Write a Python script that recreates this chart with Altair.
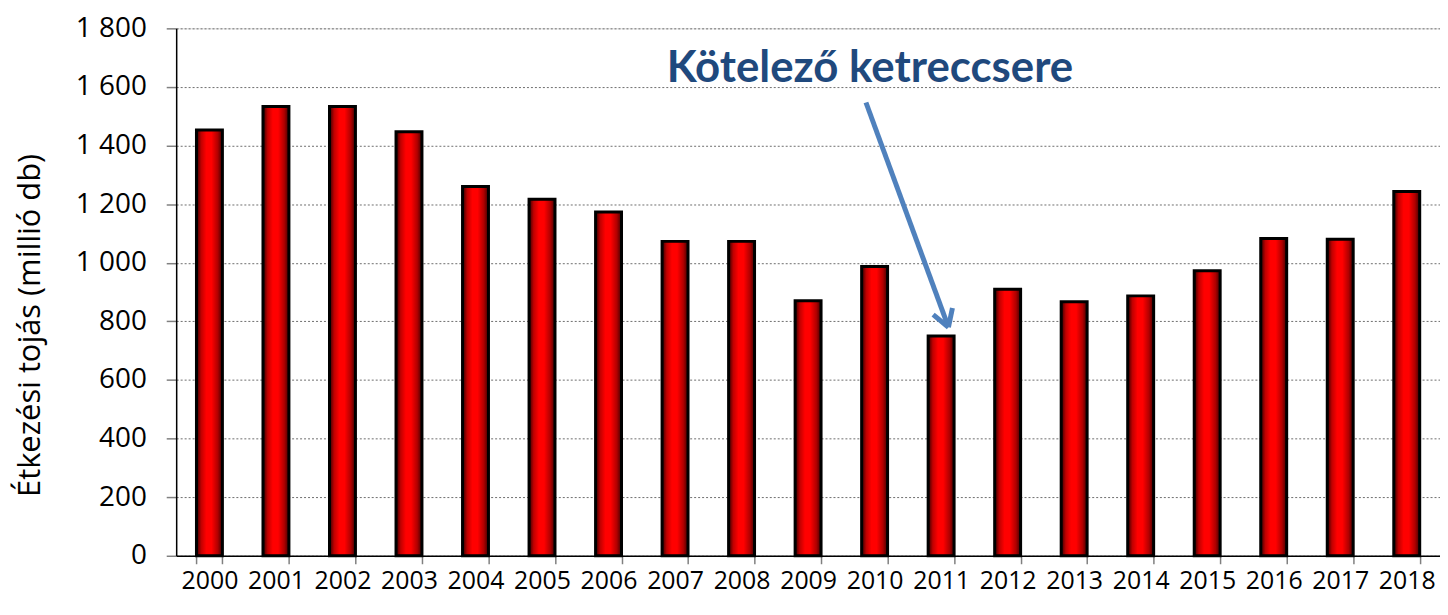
import altair as alt
import pandas as pd

# ---- data ----
years = [str(y) for y in range(2000, 2019)]
values = [1453, 1533, 1533, 1447, 1260, 1217, 1173, 1073, 1073, 870,
          987, 750, 910, 867, 887, 973, 1083, 1080, 1243]

y_ticks = [0, 200, 400, 600, 800, 1000, 1200, 1400, 1600, 1800]

# annotation (x in category-index units, y in data units)
annot_text = ["Kötelező ketreccsere"]
annot_x = [10.43]
annot_y = [1660]

arrow_seg = ["shaft", "shaft", "left", "left", "right", "right"]
arrow_x = [10.37, 11.61, 11.61, 11.38, 11.61, 11.67]
arrow_y = [1547, 780, 780, 823, 780, 846]

FONT = "Open Sans"
W, H = 1270, 530

df = pd.DataFrame({"year": years, "value": values})
arrow_df = pd.DataFrame({"seg": arrow_seg, "ax": arrow_x, "value": arrow_y})
text_df = pd.DataFrame({"label": annot_text, "ax": annot_x, "value": annot_y})

grad = alt.Gradient(
    gradient="linear",
    x1=0, x2=1, y1=0, y2=0,
    stops=[
        alt.GradientStop(color="#300000", offset=0),
        alt.GradientStop(color="#c00000", offset=0.18),
        alt.GradientStop(color="#ff0000", offset=0.38),
        alt.GradientStop(color="#ff0000", offset=0.58),
        alt.GradientStop(color="#b00000", offset=0.82),
        alt.GradientStop(color="#400000", offset=1),
    ],
)

yscale = alt.Scale(domain=[0, 1800], nice=False)

bars = alt.Chart(df).mark_bar(
    fill=grad, stroke="black", strokeWidth=3
).encode(
    x=alt.X("year:N", sort=years,
            scale=alt.Scale(paddingInner=0.61, paddingOuter=0.305),
            axis=alt.Axis(title=None, labelAngle=0, labelFont=FONT, labelFontSize=25,
                          labelColor="black", tickSize=8, tickColor="#808080",
                          tickWidth=1.5, tickBand="extent", domainColor="black",
                          domainWidth=1.5, labelPadding=5, grid=False,
                          labelOverlap=False)),
    y=alt.Y("value:Q", scale=yscale,
            axis=alt.Axis(title="Étkezési tojás (millió db)", values=y_ticks,
                          labelExpr="replace(format(datum.value, ','), ',', ' ')",
                          labelFont=FONT, labelFontSize=28, labelColor="black",
                          tickSize=10, tickColor="#808080", tickWidth=1.5,
                          labelPadding=20, domainColor="black", domainWidth=1.5,
                          grid=True, gridColor="#6e6e6e", gridDash=[2, 2], gridWidth=1,
                          titleFont=FONT, titleFontSize=31, titleFontWeight="normal",
                          titleColor="black", titleAngle=270, titleX=-137, titleY=298,
                          titleAlign="center", titleBaseline="alphabetic")),
)

xq = alt.Scale(domain=[0, 19], nice=False, zero=False)

arrow = alt.Chart(arrow_df).mark_line(
    color="#4F81BD", strokeWidth=5, strokeCap="butt"
).encode(
    x=alt.X("ax:Q", scale=xq, axis=None),
    y=alt.Y("value:Q", scale=yscale),
    detail="seg:N",
)

text = alt.Chart(text_df).mark_text(
    font="Lato", fontSize=44, fontWeight="bold", color="#1F497D",
    align="center", baseline="middle"
).encode(
    x=alt.X("ax:Q", scale=xq, axis=None),
    y=alt.Y("value:Q", scale=yscale),
    text="label:N",
)

chart = alt.layer(bars, arrow, text).resolve_scale(x="independent").properties(
    width=W, height=H,
    autosize=alt.AutoSizeParams(type="none"),
    padding={"left": 169, "top": 19, "right": 0, "bottom": 47},
).configure_view(stroke=None).configure(background="white")

chart.save("out.html", embed_options={"renderer": "svg", "actions": False})
